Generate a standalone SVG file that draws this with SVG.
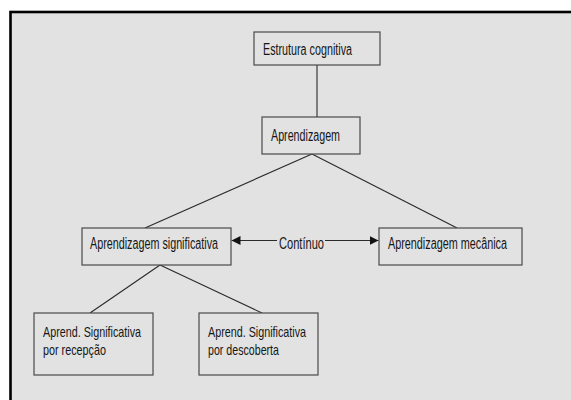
<svg xmlns="http://www.w3.org/2000/svg" width="571" height="400" viewBox="0 0 571 400">
  <defs>
    <style>
      .box { fill: #e2e2e2; stroke: #4a4a4a; stroke-width: 1.2; }
      .lbl { font-family: "Liberation Sans", Arial, sans-serif; font-size: 16px; fill: #161616; }
      .sm { font-size: 15px; }
      .conn { stroke: #2a2a2a; stroke-width: 1.1; fill: none; }
    </style>
    <marker id="arr" viewBox="0 0 10 10" refX="10" refY="5" markerWidth="9" markerHeight="10" markerUnits="userSpaceOnUse" orient="auto">
      <path d="M0,0 L10,5 L0,10 Z" fill="#111"/>
    </marker>
  </defs>

  <rect x="0" y="0" width="571" height="400" fill="#ffffff"/>
  <rect x="10.5" y="12" width="620" height="420" fill="#e2e2e2" stroke="#000" stroke-width="2.6"/>

  <g id="connectors">
    <path class="conn" d="M317,65 L317,117"/>
    <path class="conn" d="M312,154 L145,228"/>
    <path class="conn" d="M312,154 L457,228"/>
    <path class="conn" d="M160,265 L90,313"/>
    <path class="conn" d="M160,265 L262,313"/>
    <path class="conn" d="M277,240.5 L231.5,240.5" marker-end="url(#arr)"/>
    <path class="conn" d="M325,240.5 L378.5,240.5" marker-end="url(#arr)"/>
    <text class="lbl" x="279" y="249" textLength="45" lengthAdjust="spacingAndGlyphs">Contínuo</text>
  </g>

  <g id="estrutura">
    <rect class="box" x="254" y="32" width="126" height="33"/>
    <text class="lbl" x="263" y="55" textLength="89" lengthAdjust="spacingAndGlyphs">Estrutura cognitiva</text>
  </g>

  <g id="aprendizagem">
    <rect class="box" x="262" y="117" width="98" height="37"/>
    <text class="lbl" x="271" y="141" textLength="69" lengthAdjust="spacingAndGlyphs">Aprendizagem</text>
  </g>

  <g id="significativa">
    <rect class="box" x="82" y="228" width="149" height="37"/>
    <text class="lbl" x="90" y="249" textLength="128" lengthAdjust="spacingAndGlyphs">Aprendizagem significativa</text>
  </g>

  <g id="mecanica">
    <rect class="box" x="379" y="228" width="143" height="37"/>
    <text class="lbl" x="388" y="249" textLength="119" lengthAdjust="spacingAndGlyphs">Aprendizagem mecânica</text>
  </g>

  <g id="recepcao">
    <rect class="box" x="34" y="313" width="119" height="62"/>
    <text class="lbl sm" x="43" y="337" textLength="98" lengthAdjust="spacingAndGlyphs">Aprend. Significativa</text>
    <text class="lbl sm" x="43" y="355" textLength="63" lengthAdjust="spacingAndGlyphs">por recepção</text>
  </g>

  <g id="descoberta">
    <rect class="box" x="199" y="313" width="119" height="62"/>
    <text class="lbl sm" x="208" y="337" textLength="98" lengthAdjust="spacingAndGlyphs">Aprend. Significativa</text>
    <text class="lbl sm" x="208" y="355" textLength="71" lengthAdjust="spacingAndGlyphs">por descoberta</text>
  </g>
</svg>
